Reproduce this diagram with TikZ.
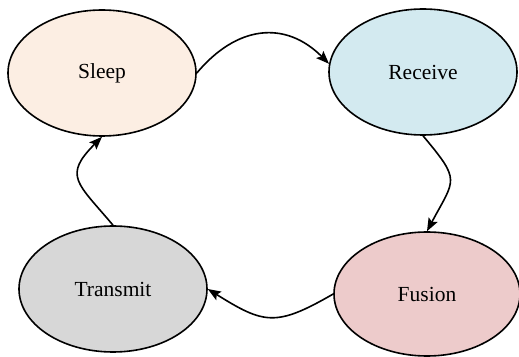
\documentclass[tikz,border=0pt]{standalone}
\usepackage{fontspec}
\setmainfont{Liberation Serif}
\usetikzlibrary{shapes.geometric,arrows.meta}
\definecolor{sleepc}{HTML}{FCEEE3}
\definecolor{recvc}{HTML}{D3EAF0}
\definecolor{transc}{HTML}{D7D7D7}
\definecolor{fusc}{HTML}{EDCBCB}
\begin{document}
\begin{tikzpicture}[x=1pt,y=1pt,
  state/.style={ellipse,draw=black,line width=1.6pt,minimum width=188pt,minimum height=126pt,inner sep=0pt,font=\fontsize{21.5}{26}\selectfont},
  conn/.style={line width=1.6pt,-{Stealth[length=13pt,width=10pt,inset=2.5pt]}}]
\useasboundingbox (0,0) rectangle (519,356);
\node[state,fill=sleepc] (s) at (102,283) {Sleep};
\node[state,fill=recvc] (r) at (423,284) {Receive};
\node[state,fill=transc] (t) at (113,67) {Transmit};
\node[state,fill=fusc,minimum width=186pt,minimum height=124pt] (f) at (427,62) {Fusion};
\draw[conn] (s.east) to[out=50,in=135,looseness=1.2] (r.175);
\draw[conn] (r.south) to[out=-50,in=62,looseness=1.6] (f.north);
\draw[conn] (f.west) to[out=-150,in=-32,looseness=1.35] (t.east);
\draw[conn] (t.north) to[out=130,in=-135,looseness=1.6] (s.south);
\end{tikzpicture}
\end{document}
